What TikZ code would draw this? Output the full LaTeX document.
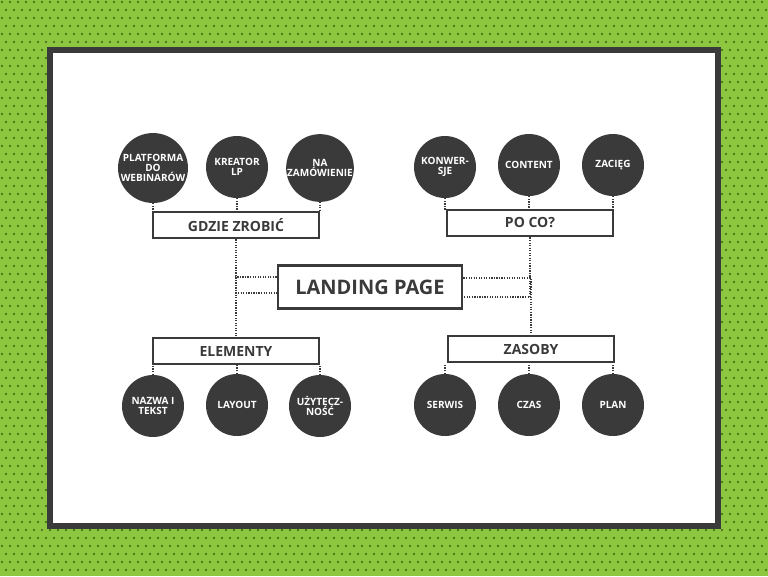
\documentclass[tikz,border=0pt]{standalone}
\usepackage{fontspec}
\setmainfont{Open Sans}
\definecolor{grass}{HTML}{8DC63F}
\definecolor{grassdot}{HTML}{3A5F1A}
\definecolor{ink}{HTML}{3A3A3A}
\begin{document}
\begin{tikzpicture}[x=0.75pt,y=-0.75pt]
        \tikzstyle{topic}=[circle,fill=ink,minimum size=62*0.75pt,inner sep=0pt,text=white,font=\bfseries\fontsize{7.5}{7.5}\selectfont,align=center]
        \tikzstyle{group}=[draw=ink,line width=2.2pt,fill=white,minimum width=166*0.75pt,minimum height=26*0.75pt,inner sep=0pt,text=ink,font=\bfseries\fontsize{10.5}{10.5}\selectfont]
        \tikzstyle{link}=[draw=ink,densely dotted,line width=0.9pt]
        \useasboundingbox (0,0) rectangle (768,576);
        % background
        \fill[grass] (0,0) rectangle (768,576);
        \begin{scope}
        \clip (0,0) rectangle (768,576);
        \foreach \r in {0,...,72} {
            \pgfmathsetmacro{\off}{mod(\r,2)*4}
            \foreach \c in {0,...,96}
                \fill[grassdot] (\c*8+\off+2,\r*8+2) circle (0.9pt);
        }
        \end{scope}
        \draw[ink,fill=white,line width=4pt] (50,50) rectangle (718,526);
        % main node
        \node [group,minimum width=184*0.75pt,minimum height=43*0.75pt,font=\bfseries\fontsize{15}{15}\selectfont] (lp) at (370,287) {LANDING PAGE};
        \node [group] (gdzie) at (236,225) {GDZIE ZROBIĆ};
        \node [group] (poco) at (530,223) {PO CO?};
        \node [group] (elem) at (236,351) {ELEMENTY};
        \node [group] (zas) at (531,349) {ZASOBY};
        \node [topic] (g1) at (153,168) {PLATFORMA\\DO\\WEBINARÓW};
        \node [topic] (g2) at (237,167) {KREATOR\\LP};
        \node [topic] (g3) at (320,168) {NA\\ZAMÓWIENIE};
        \node [topic] (p1) at (445,167) {KONWER-\\SJE};
        \node [topic] (p2) at (529,165) {CONTENT};
        \node [topic] (p3) at (613,165) {ZACIĘG};
        \node [topic] (e1) at (153,406) {NAZWA I\\TEKST};
        \node [topic] (e2) at (237,405) {LAYOUT};
        \node [topic] (e3) at (320,406) {UŻYTECZ-\\NOŚĆ};
        \node [topic] (z1) at (445,405) {SERWIS};
        \node [topic] (z2) at (529,405) {CZAS};
        \node [topic] (z3) at (613,405) {PLAN};
        % connectors
        \foreach \n in {g1,g2,g3,p1,p2,p3}
            \path[link] (\n.south) -- (\n.south |- gdzie.north);
        \foreach \n in {e1,e2,e3,z1,z2,z3}
            \path[link] (\n.north) -- (\n.north |- elem.south);
        \path[link] (gdzie.south) |- ([yshift=-6*0.75pt]lp.west);
        \path[link] ([yshift=10*0.75pt]lp.west) -| (elem.north);
        \path[link] (poco.south) |- ([yshift=-10*0.75pt]lp.east);
        \path[link] ([yshift=9*0.75pt]lp.east) -| (zas.north);
\end{tikzpicture}
\end{document}
